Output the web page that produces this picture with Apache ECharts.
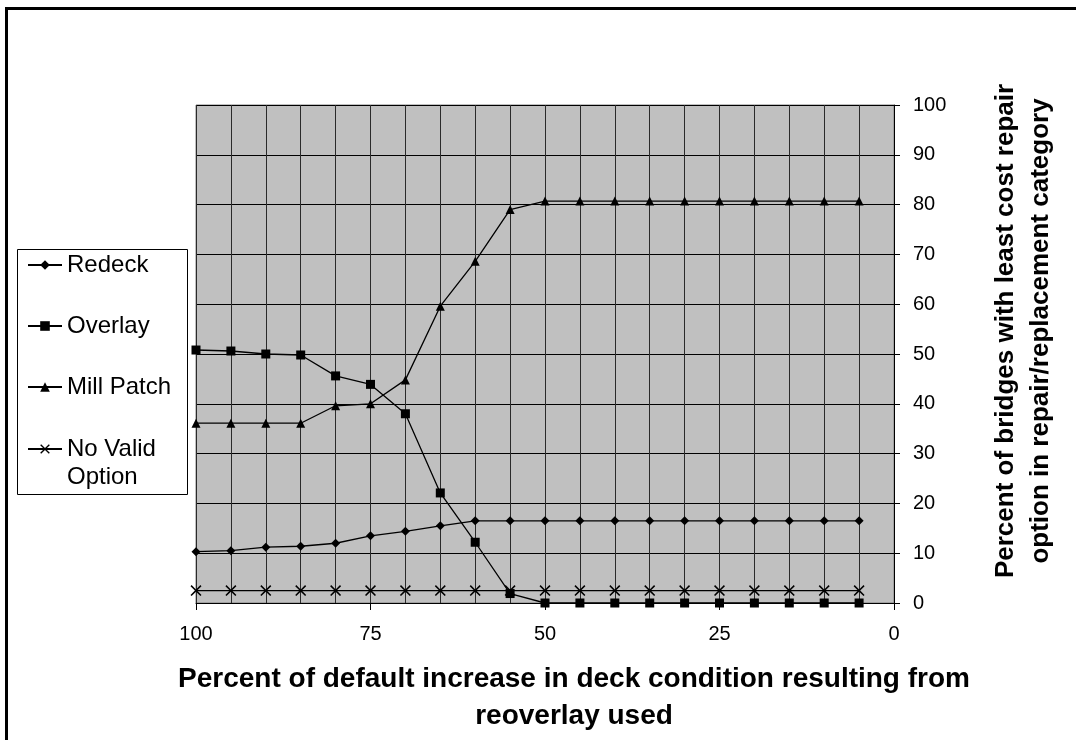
<!DOCTYPE html>
<html>
<head>
<meta charset="utf-8">
<script src="https://cdn.jsdelivr.net/npm/echarts@6/dist/echarts.min.js"></script>
<style>
html,body{margin:0;padding:0;background:#fff;overflow:hidden;}
#chart{position:absolute;left:0;top:0;width:1076px;height:740px;}
</style>
</head>
<body>
<div id="chart"></div>
<script>
const xValues = [100,95,90,85,80,75,70,65,60,55,50,45,40,35,30,25,20,15,10,5];
const redeck = [10.3,10.5,11.2,11.4,12.0,13.5,14.4,15.5,16.5,16.5,16.5,16.5,16.5,16.5,16.5,16.5,16.5,16.5,16.5,16.5];
const overlay = [50.8,50.6,50.0,49.8,45.6,43.9,38.0,22.1,12.2,1.9,0,0,0,0,0,0,0,0,0,0];
const millPatch = [36.1,36.1,36.1,36.1,39.6,40.0,44.8,59.6,68.6,79.0,80.7,80.7,80.7,80.7,80.7,80.7,80.7,80.7,80.7,80.7];
const noValid = [2.5,2.5,2.5,2.5,2.5,2.5,2.5,2.5,2.5,2.5,2.5,2.5,2.5,2.5,2.5,2.5,2.5,2.5,2.5,2.5];
const seriesNames = ['Redeck','Overlay','Mill Patch','No Valid Option'];
const xTickLabels = [100,75,50,25,0];
const yTicks = [0,10,20,30,40,50,60,70,80,90,100];
const xTitle = 'Percent of default increase in deck condition resulting from\nreoverlay used';
const yTitle = 'Percent of bridges with least cost repair\noption in repair/replacement category';

const FONT = '"Liberation Sans", Arial, sans-serif';
const crossPath = 'path://M0,1 L1,0 L5,4 L9,0 L10,1 L6,5 L10,9 L9,10 L5,6 L1,10 L0,9 L4,5 Z';

function pairs(ys){ return xValues.map((x,i)=>[x, ys[i]]); }

const chart = echarts.init(document.getElementById('chart'), null, {renderer:'canvas'});
const lineStyle = {color:'#000', width:1.3};
const legendText = {fontSize:24, color:'#000', fontFamily:FONT, lineHeight:28};
chart.setOption({
  animation:false,
  textStyle:{fontFamily:FONT},
  grid:{left:196, right:182, top:105, bottom:137, containLabel:false, outerBoundsMode:'none',
    show:true, backgroundColor:'#c0c0c0', borderColor:'#808080', borderWidth:1},
  xAxis:[{
    type:'value', inverse:true, min:0, max:100, interval:5,
    axisLine:{show:false}, axisTick:{show:false}, axisLabel:{show:false},
    splitLine:{show:true, lineStyle:{color:'#2a2a2a', width:1}}
  },{
    type:'value', inverse:true, min:0, max:100, interval:25, position:'bottom',
    axisLine:{show:true, lineStyle:{color:'#000', width:1}},
    axisTick:{show:true, length:7, lineStyle:{color:'#000'}},
    axisLabel:{show:true, margin:21, fontSize:20, color:'#000', fontFamily:FONT,
      formatter:function(v){ return xTickLabels.indexOf(v)>=0 ? String(v) : ''; }},
    splitLine:{show:false},
    name:xTitle, nameLocation:'middle', nameGap:58,
    nameTextStyle:{fontSize:28, fontWeight:'bold', color:'#000', fontFamily:FONT, lineHeight:37, padding:[0,0,0,58]}
  }],
  yAxis:{
    type:'value', position:'right', min:0, max:100, interval:10,
    axisLine:{show:true, lineStyle:{color:'#000', width:1}},
    axisTick:{show:true, length:6, lineStyle:{color:'#000'}},
    axisLabel:{margin:19, fontSize:20, color:'#000', fontFamily:FONT},
    splitLine:{show:true, lineStyle:{color:'#000', width:1}},
    name:yTitle, nameLocation:'middle', nameRotate:90, nameGap:94,
    nameTextStyle:{fontSize:26, fontWeight:'bold', color:'#000', fontFamily:FONT, lineHeight:35, padding:[0,0,24,46]}
  },
  legend:[{
    orient:'vertical', left:27, top:251, padding:0, itemWidth:34, itemHeight:12, itemGap:33,
    textStyle:legendText,
    data:seriesNames.slice(0,3)
  },{
    orient:'vertical', left:27, top:407, padding:0, itemWidth:34, itemHeight:12,
    textStyle:legendText,
    formatter:function(n){ return n==='No Valid Option' ? '\nNo Valid\nOption' : n; },
    data:seriesNames.slice(3)
  }],
  graphic:[{
    type:'rect', left:15, top:247, shape:{width:170, height:245},
    style:{fill:'none', stroke:'#000', lineWidth:1}, z:-1
  },{
    type:'rect', x:6.5, y:8.5, shape:{width:1200, height:900},
    style:{fill:'none', stroke:'#000', lineWidth:3}, z:-1, silent:true
  }],
  series:[
    {name:seriesNames[0], type:'line', xAxisIndex:0, data:pairs(redeck), symbol:'diamond', symbolSize:9,
      lineStyle:lineStyle, itemStyle:{color:'#000'}},
    {name:seriesNames[1], type:'line', xAxisIndex:0, data:pairs(overlay), symbol:'rect', symbolSize:9,
      lineStyle:lineStyle, itemStyle:{color:'#000'}},
    {name:seriesNames[2], type:'line', xAxisIndex:0, data:pairs(millPatch), symbol:'triangle', symbolSize:9,
      lineStyle:lineStyle, itemStyle:{color:'#000'}},
    {name:seriesNames[3], type:'line', xAxisIndex:0, data:pairs(noValid), symbol:crossPath, symbolSize:11,
      lineStyle:lineStyle, itemStyle:{color:'#000'}}
  ]
});
</script>
</body>
</html>
